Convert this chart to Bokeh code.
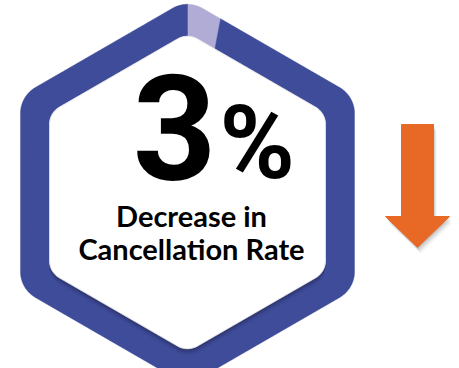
import numpy as np
from bokeh.plotting import figure
from bokeh.models import Range1d
from bokeh.core.properties import value
from bokeh.embed import file_html
from bokeh.resources import INLINE

# ---- data ----
ring_labels = ["Decrease", "Rest"]
ring_shares = [3, 97]          # percent of the ring
metric_value = ["3"]
metric_unit = ["%"]
caption_lines = ["Decrease in", "Cancellation Rate"]
trend = ["down"]

# ---- styles / layout ----
W, H = 459, 368
BLUE = "#3E4C9A"
LAVENDER = "#B0ACD6"
ORANGE = "#E86826"
ring_colors = [LAVENDER, BLUE]

CX, CY = 187, 192
OUT_HALF = 167     # outer half width (flat to flat)
IN_HALF = 138
OUT_R = 30
IN_R = 20
BASE_SHIFT = 0.35  # alphabetic baseline correction (fraction of font size)

p = figure(width=W, height=H, output_backend="svg", toolbar_location=None,
           x_range=Range1d(0, W), y_range=Range1d(H, 0),
           x_axis_type=None, y_axis_type=None, min_border=0)
p.grid.visible = False
p.outline_line_color = None
p.background_fill_color = "white"
p.border_fill_color = "white"


def rounded_hex(half, r, cx=CX, cy=CY, n=40, step=1.0):
    R = half / np.cos(np.radians(30))
    d = R - r / np.sin(np.radians(60))
    xs, ys = [], []
    for k in range(6):
        th = np.radians(-90 + 60 * k)
        ccx, ccy = cx + d * np.cos(th), cy + d * np.sin(th)
        phis = np.linspace(th - np.radians(30), th + np.radians(30), n)
        xs.extend(ccx + r * np.cos(phis))
        ys.extend(ccy + r * np.sin(phis))
    xs, ys = np.array(xs + [xs[0]]), np.array(ys + [ys[0]])
    seg = np.hypot(np.diff(xs), np.diff(ys))
    s = np.concatenate([[0], np.cumsum(seg)])
    t = np.arange(0, s[-1], step)
    return np.interp(t, s, xs), np.interp(t, s, ys)


def radial_fn(half, r):
    xs, ys = rounded_hex(half, r, step=0.5)
    ang = np.arctan2(ys - CY, xs - CX)
    rho = np.hypot(xs - CX, ys - CY)
    order = np.argsort(ang)
    ang, rho = ang[order], rho[order]
    ang = np.concatenate([ang - 2 * np.pi, ang, ang + 2 * np.pi])
    rho = np.concatenate([rho, rho, rho])
    def f(a):
        rr = np.interp(a, ang, rho)
        return CX + rr * np.cos(a), CY + rr * np.sin(a)
    return f


outer_f = radial_fn(OUT_HALF, OUT_R)
inner_f = radial_fn(IN_HALF, IN_R)

# ring segments (clockwise from the top)
total = float(sum(ring_shares))
start = -np.pi / 2
seg_xs, seg_ys = [], []
for share in ring_shares:
    end = start + 2 * np.pi * share / total
    a = np.linspace(start, end, max(40, int(share * 30)))
    ox, oy = outer_f(a)
    ix, iy = inner_f(a[::-1])
    seg_xs.append(list(np.concatenate([ox, ix])))
    seg_ys.append(list(np.concatenate([oy, iy])))
    start = end
p.patches(seg_xs, seg_ys, fill_color=ring_colors, line_color=ring_colors, line_width=0.5)

# soft shadow of the inner panel onto the ring
for off, al in [(7, 0.06), (5, 0.1), (3.5, 0.14), (2, 0.18)]:
    hx, hy = rounded_hex(IN_HALF, IN_R, cy=CY + off)
    p.patch(hx, hy, fill_color="#1a1f40", fill_alpha=al, line_color=None)

ix, iy = rounded_hex(IN_HALF, IN_R)
p.patch(ix, iy, fill_color="white", line_color="#e4e4e4", line_width=1)


def label(x, y, txt, size, font, align):
    p.text(x=x, y=[yy - BASE_SHIFT * size for yy in y], text=txt,
           text_font=value(font), text_font_style="bold",
           text_font_size=f"{size}px", text_color="black",
           text_align=align, text_baseline="alphabetic")


# big value
label([216], [178], metric_value, 146, "Roboto", "right")
label([219], [178], metric_unit, 102, "Roboto", "left")

# caption
label([CX + 4, CX + 4], [225, 258], caption_lines, 29, "Lato", "center")

# trend arrow
AX, ATOP, ABOT = 417, 124, 247
SHAFT, HEAD, HEADY = 16, 32, 216
def arrow(dx=0, dy=0):
    xs = [AX - SHAFT, AX + SHAFT, AX + SHAFT, AX + HEAD, AX, AX - HEAD, AX - SHAFT]
    ys = [ATOP, ATOP, HEADY, HEADY, ABOT, HEADY, HEADY]
    return [x + dx for x in xs], [y + dy for y in ys]
if trend[0] == "down":
    for off, al in [(6, 0.06), (4, 0.1), (2, 0.14)]:
        sx, sy = arrow(off * 0.5, off)
        p.patch(sx, sy, fill_color="#333333", fill_alpha=al, line_color=None)
    axs, ays = arrow()
    p.patch(axs, ays, fill_color=ORANGE, line_color=ORANGE)

open("out.html", "w").write(file_html(p, INLINE))
